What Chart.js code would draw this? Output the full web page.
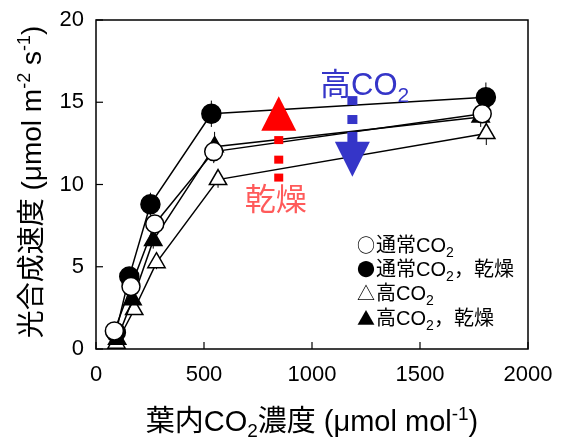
<!DOCTYPE html>
<html><head><meta charset="utf-8">
<script src="https://cdn.jsdelivr.net/npm/chart.js@4"></script>
<style>html,body{margin:0;padding:0;background:#fff}</style>
</head><body>
<canvas id="c" width="562" height="437"></canvas>
<script>
// ---- data ----
const xTicks = [0, 500, 1000, 1500, 2000];
const yTicks = [0, 5, 10, 15, 20];
const ambientX    = [85, 162, 272, 545, 1788];
const ambientY    = [1.1, 3.8, 7.6, 12.0, 14.3];
const ambientErr  = [0.3, 0.3, 0.4, 0.7, 0.5];
const ambientDryX   = [92, 154, 252, 534, 1805];
const ambientDryY   = [1.0, 4.4, 8.8, 14.3, 15.3];
const ambientDryErr = [0.3, 0.4, 0.7, 0.8, 0.9];
const highX    = [95, 177, 280, 565, 1807];
const highY    = [0.35, 2.4, 5.25, 10.3, 13.1];
const highErr  = [0.2, 0.3, 0.4, 0.5, 0.7];
const highDryX   = [98, 169, 265, 549, 1781];
const highDryY   = [0.6, 3.0, 6.6, 12.3, 14.1];
const highDryErr = [0.3, 0.4, 0.5, 0.9, 0.6];
const legendLabels = [
  {sym: '○', a: '通常CO', b: ''},
  {sym: '●', a: '通常CO', b: '，乾燥'},
  {sym: '△', a: '高CO', b: ''},
  {sym: '▲', a: '高CO', b: '，乾燥'}
];
// annotation anchors (data coords)
const dryArrow = {x: 846, top: 15.37, base: 13.26, dots: [12.7, 11.51, 10.42]};
const co2Arrow = {x: 1187, dots: [15.1, 13.95], shaftTop: 13.2, base: 12.6, tip: 10.47};

const FONT = '"Liberation Sans", Arial, "Noto Sans CJK JP", sans-serif';
const CJK = '"Noto Sans CJK JP", sans-serif';
const pts = (xs, ys) => xs.map((x, i) => ({x: x, y: ys[i]}));

function setFont(ctx, s) { ctx.font = (s.w || '') + ' ' + s.size + 'px ' + (s.f || FONT); }
function richWidth(ctx, segs) {
  let w = 0;
  for (const s of segs) { setFont(ctx, s); w += ctx.measureText(s.t).width; }
  return w;
}
function drawRich(ctx, segs, x, y, align, color) {
  const w = richWidth(ctx, segs);
  let cx = align === 'center' ? x - w / 2 : x;
  ctx.fillStyle = color; ctx.textBaseline = 'alphabetic'; ctx.textAlign = 'left';
  for (const s of segs) {
    setFont(ctx, s);
    ctx.fillText(s.t, cx, y + (s.dy || 0));
    cx += ctx.measureText(s.t).width;
  }
}

const decor = {
  id: 'decor',
  beforeDatasetsDraw(chart) {
    const ctx = chart.ctx, xs = chart.scales.x, ys = chart.scales.y;
    ctx.save(); ctx.strokeStyle = '#000'; ctx.lineWidth = 1;
    chart.data.datasets.forEach(ds => {
      const e = ds.errKey;
      ds.data.forEach((p, i) => {
        const px = xs.getPixelForValue(p.x);
        ctx.beginPath();
        ctx.moveTo(px, ys.getPixelForValue(p.y + e[i]));
        ctx.lineTo(px, ys.getPixelForValue(p.y - e[i]));
        ctx.stroke();
      });
    });
    ctx.restore();
  },
  afterDraw(chart) {
    const ctx = chart.ctx, xs = chart.scales.x, ys = chart.scales.y, a = chart.chartArea;
    ctx.save();
    // frame
    ctx.strokeStyle = '#000'; ctx.lineWidth = 1.5;
    ctx.strokeRect(a.left, a.top, a.right - a.left, a.bottom - a.top);
    // inward ticks
    ctx.lineWidth = 1.2;
    xTicks.forEach(v => { const p = xs.getPixelForValue(v); ctx.beginPath(); ctx.moveTo(p, a.bottom); ctx.lineTo(p, a.bottom - 7); ctx.stroke(); });
    yTicks.forEach(v => { const p = ys.getPixelForValue(v); ctx.beginPath(); ctx.moveTo(a.left, p); ctx.lineTo(a.left + 7, p); ctx.stroke(); });

    // x title
    drawRich(ctx, [
      {t: '葉内CO', size: 29}, {t: '2', size: 19, dy: 6}, {t: '濃度 (μmol mol', size: 29}, {t: '-1', size: 19, dy: -11}, {t: ')', size: 29}
    ], (a.left + a.right) / 2, 431, 'center', '#000');
    // y title
    ctx.save();
    ctx.translate(41, 182); ctx.rotate(-Math.PI / 2);
    drawRich(ctx, [
      {t: '光合成速度 (μmol m', size: 28}, {t: '-2', size: 18, dy: -11}, {t: ' s', size: 28}, {t: '-1', size: 18, dy: -11}, {t: ')', size: 28}
    ], 0, 0, 'center', '#000');
    ctx.restore();

    // legend
    legendLabels.forEach((l, i) => {
      const y = 252 + i * 24.2;
      const segs = [{t: l.sym, size: 18, f: CJK}, {t: ' ', size: 4}, {t: l.a, size: 20}, {t: '2', size: 14, dy: 5}];
      if (l.b) segs.push({t: l.b, size: 20});
      drawRich(ctx, segs, 357, y, 'left', '#000');
    });

    // red arrow (drought)
    const rx = xs.getPixelForValue(dryArrow.x);
    ctx.fillStyle = '#ff0000';
    ctx.beginPath();
    ctx.moveTo(rx, ys.getPixelForValue(dryArrow.top));
    ctx.lineTo(rx + 17.5, ys.getPixelForValue(dryArrow.base));
    ctx.lineTo(rx - 17.5, ys.getPixelForValue(dryArrow.base));
    ctx.closePath(); ctx.fill();
    dryArrow.dots.forEach(v => { const p = ys.getPixelForValue(v); ctx.fillRect(rx - 4.5, p - 4, 9, 8); });
    drawRich(ctx, [{t: '乾燥', size: 31}], rx - 3, 210, 'center', '#ff5a5a');

    // blue arrow (high CO2)
    const bx = xs.getPixelForValue(co2Arrow.x);
    ctx.fillStyle = '#3535c8';
    co2Arrow.dots.forEach(v => { const p = ys.getPixelForValue(v); ctx.fillRect(bx - 5, p - 4.5, 10, 9); });
    const st = ys.getPixelForValue(co2Arrow.shaftTop), bb = ys.getPixelForValue(co2Arrow.base);
    ctx.fillRect(bx - 5, st, 10, bb - st + 1);
    ctx.beginPath();
    ctx.moveTo(bx - 17.5, bb);
    ctx.lineTo(bx + 17.5, bb);
    ctx.lineTo(bx, ys.getPixelForValue(co2Arrow.tip));
    ctx.closePath(); ctx.fill();
    drawRich(ctx, [{t: '高CO', size: 31}, {t: '2', size: 21, dy: 7}], 320, 95, 'left', '#3535c8');
    ctx.restore();
  }
};

const common = {showLine: true, borderColor: '#000', borderWidth: 1.5, pointBorderWidth: 1.5, pointBorderColor: '#000'};

new Chart(document.getElementById('c'), {
  type: 'scatter',
  data: {
    datasets: [
      Object.assign({label: '通常CO2', data: pts(ambientX, ambientY), errKey: ambientErr, pointStyle: 'circle', pointRadius: 9, pointBackgroundColor: '#fff', order: 0}, common),
      Object.assign({label: '高CO2, 乾燥', data: pts(highDryX, highDryY), errKey: highDryErr, pointStyle: 'triangle', pointRadius: 10, pointBackgroundColor: '#000', order: 1}, common),
      Object.assign({label: '通常CO2, 乾燥', data: pts(ambientDryX, ambientDryY), errKey: ambientDryErr, pointStyle: 'circle', pointRadius: 9.5, pointBackgroundColor: '#000', order: 2}, common),
      Object.assign({label: '高CO2', data: pts(highX, highY), errKey: highErr, pointStyle: 'triangle', pointRadius: 10, pointBackgroundColor: '#fff', order: 3}, common)
    ]
  },
  options: {
    responsive: false, animation: false,
    layout: {padding: {top: 20, right: 34, left: 0, bottom: 0}},
    plugins: {legend: {display: false}, tooltip: {enabled: false}},
    scales: {
      x: {
        type: 'linear', min: 0, max: 2000,
        afterBuildTicks: s => { s.ticks = xTicks.map(v => ({value: v})); },
        afterFit: s => { s.height = 88; s.paddingLeft = 0; s.paddingRight = 0; },
        grid: {display: false, drawTicks: false},
        border: {display: false},
        ticks: {color: '#000', font: {family: FONT, size: 22}, padding: 13, maxRotation: 0, callback: v => String(v)}
      },
      y: {
        type: 'linear', min: 0, max: 20,
        afterBuildTicks: s => { s.ticks = yTicks.map(v => ({value: v})); },
        afterFit: s => { s.width = 96; s.paddingTop = 0; s.paddingBottom = 0; },
        grid: {display: false, drawTicks: false},
        border: {display: false},
        ticks: {color: '#000', font: {family: FONT, size: 22}, padding: 12, callback: v => String(v)}
      }
    }
  },
  plugins: [decor]
});
</script>
</body></html>
